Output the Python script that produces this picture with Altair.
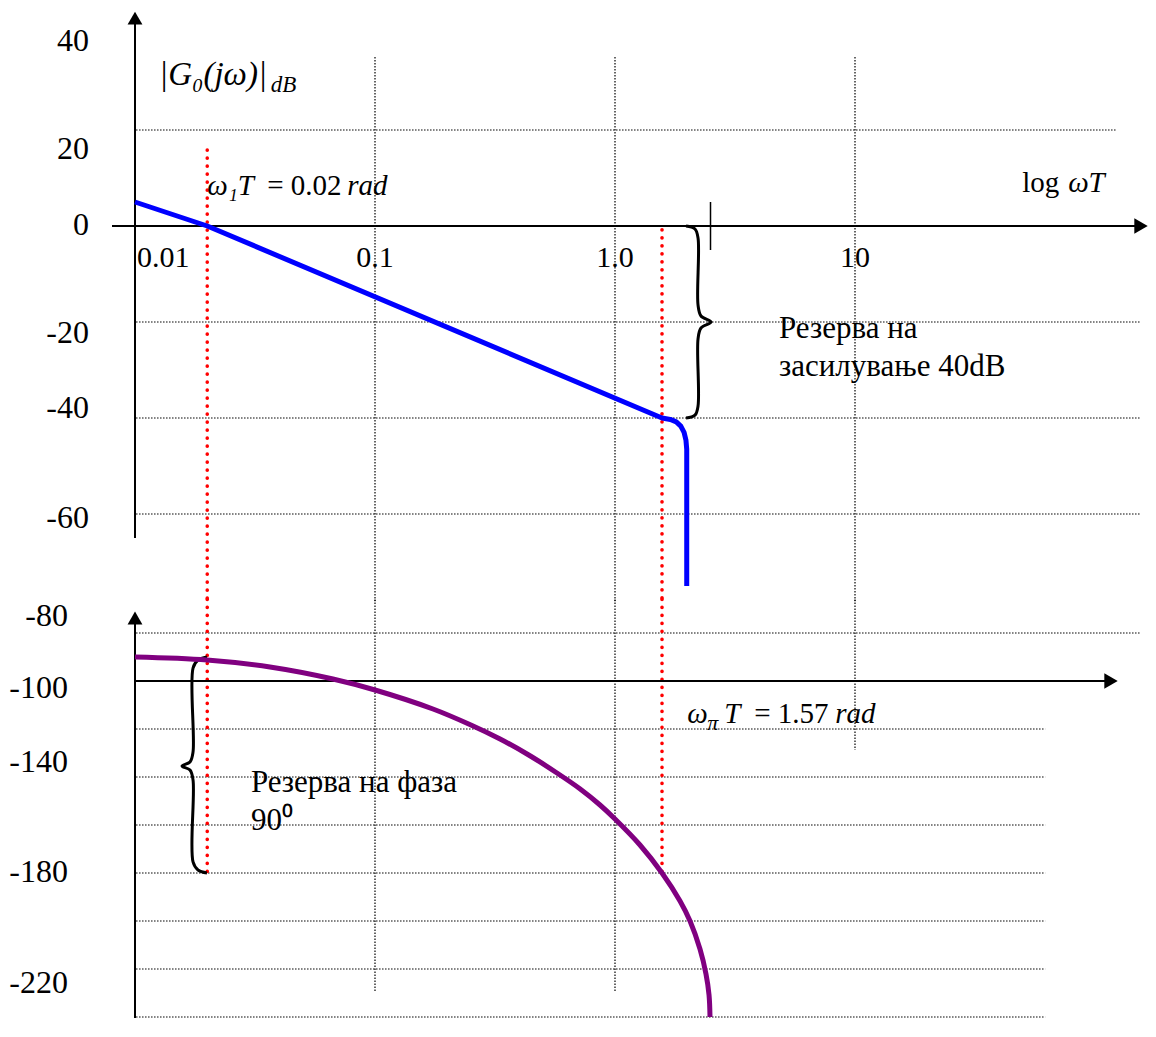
import altair as alt
import pandas as pd

FONT = "Liberation Serif"

# ---------------- values ----------------
# frequency axis (omega*T, logarithmic)
x_tick_values = [0.1, 1.0, 10.0]
x_tick_labels = ["0.1", "1.0", "10"]
x_first_tick = [0.01]
x_first_label = ["0.01"]
v_grid_values = [0.1, 1.0, 10.0]

# magnitude |G0(jw)| in dB
mag_wT = [0.01, 0.02, 1.57, 1.70, 1.80, 1.88, 1.94, 1.975, 1.99, 1.99]
mag_dB = [5.0, 0.0, -40.0, -40.3, -40.8, -41.7, -43.0, -44.6, -46.5, -75.0]
db_tick_values = [40, 20, 0, -20, -40, -60]
db_tick_labels = ["40", "20", "0", "-20", "-40", "-60"]
db_grid_values = [20, -20, -40, -60]
db_grid_end = [122.0, 154.0, 154.0, 154.0]

# phase in degrees
ph_wT = [0.01, 0.01995, 0.0365, 0.0668, 0.1, 0.1744, 0.251, 0.332, 0.437, 0.573, 0.716, 0.866, 1.0,
         1.271, 1.57, 1.866, 2.054, 2.26, 2.394, 2.465, 2.488]
ph_deg = [-90.0, -91.25, -94.17, -99.17, -103.75, -111.67, -118.33, -124.17, -130.83, -138.33, -145.0,
          -151.67, -157.5, -168.33, -180.0, -191.67, -200.0, -211.67, -222.08, -230.83, -240.0]
deg_tick_values = [-80, -100, -140, -180, -220]
deg_tick_labels = ["-80", "-100", "-140", "-180", "-220"]
deg_grid_values = [-80, -120, -140, -160, -180, -200, -220, -240]
deg_grid_end = [154.0, 62.0, 62.0, 62.0, 62.0, 62.0, 62.0, 62.0]

# characteristic points
w1T = 0.02          # gain crossover
wpiT = 1.57         # phase crossover
gain_margin_dB = [0, -40]
phase_margin_deg = [-90, -180]

# brace outlines (omega*T , value)
brace_top_wT = [1.977, 2.154, 2.218, 2.218, 2.282, 2.512, 2.282, 2.218, 2.218, 2.154, 1.977]
brace_top_dB = [0, -0.625, -2.5, -16.46, -18.75, -20, -21.25, -23.54, -37.5, -39.4, -40]
brace_bot_wT = [0.01995, 0.0183, 0.01745, 0.01745, 0.01695, 0.0157, 0.01695, 0.01745, 0.01745, 0.0183, 0.01995]
brace_bot_deg = [-90, -91.25, -94.6, -129.6, -133.75, -135.4, -137.1, -141.25, -175.4, -178.75, -180]

# ---------------- layout ----------------
PX_PER_DECADE = 240
PLOT_W = 1013
PLOT_H = 1010
PX_PER_DB = 4.8
PX_PER_DEG = 2.4
x_max = 10 ** (-2 + PLOT_W / PX_PER_DECADE)

x_scale = alt.Scale(type="log", domain=[0.01, x_max], nice=False)
db_top = 218 / PX_PER_DB
db_scale = alt.Scale(domain=[db_top - PLOT_H / PX_PER_DB, db_top], nice=False, zero=False)
deg_top = -100 + 673 / PX_PER_DEG
deg_scale = alt.Scale(domain=[deg_top - PLOT_H / PX_PER_DEG, deg_top], nice=False, zero=False)
DB_SEAM = -78.2     # bottom of magnitude drawing area
DEG_SEAM = -66.0    # top of phase drawing area

DOT = [1.5, 1.5]
RED_DOT = [0.1, 7.9]
TXT = 31            # annotation text size
YNUM = 32           # y tick label size
XNUM = 30           # x tick label size

# small pixel shifts of the y tick labels (downwards positive), as drawn in the reference
top_offsets = {40: 7, 20: 19, 0: -1, -20: 11, -40: -10, -60: 4}
bot_offsets = {-80: -17, -100: 7, -140: -15, -180: -1, -220: 14}


def offset_expr(d):
    e = "0"
    for k, v in d.items():
        e = f"(datum.v === {k} ? {v} : {e})"
    return e


def X(f="x"):
    return alt.X(f"{f}:Q", scale=x_scale, axis=None)


def Y(f, sc):
    return alt.Y(f"{f}:Q", scale=sc, axis=None)


def texts(df, sc, size=TXT, style="normal", align="left", dx=0, dy=0, baseline="alphabetic"):
    return alt.Chart(df).mark_text(
        font=FONT, fontSize=size, fontStyle=style, color="black",
        align=align, baseline=baseline, dx=dx, dy=dy,
    ).encode(x=X(), y=Y("y", sc), text="t:N")


def ylabels(vals, labels, offsets, px_per_unit, sc, pad):
    df = pd.DataFrame({"v": vals, "t": labels, "x": 0.01})
    return alt.Chart(df).transform_calculate(
        y=f"datum.v - {offset_expr(offsets)} / {px_per_unit}"
    ).mark_text(font=FONT, fontSize=YNUM, color="black", align="right", baseline="middle",
                dx=-pad).encode(x=X(), y=Y("y", sc), text="t:N")


def panel(sc, grid_vals, grid_end, vgrid_top, vgrid_bot, red_top, red_bot,
          yaxis_top, yaxis_bot, xaxis_y, xaxis_x0, xaxis_x1):
    hgrid = alt.Chart(pd.DataFrame({"y": grid_vals, "x": 0.0101, "x2": grid_end})).mark_rule(
        color="black", strokeWidth=1.2, strokeDash=DOT).encode(x=X(), x2="x2:Q", y=Y("y", sc))
    vgrid = alt.Chart(pd.DataFrame({"x": v_grid_values, "y": vgrid_top, "y2": vgrid_bot})).mark_rule(
        color="black", strokeWidth=1.2, strokeDash=DOT).encode(x=X(), y=Y("y", sc), y2="y2:Q")
    red = alt.Chart(pd.DataFrame({"x": [w1T, wpiT], "y": red_top, "y2": red_bot})).mark_rule(
        color="#ff0000", strokeWidth=3.6, strokeDash=RED_DOT, strokeCap="round").encode(
        x=X(), y=Y("y", sc), y2="y2:Q")
    yline = alt.Chart(pd.DataFrame({"x": [0.01], "y": [yaxis_top], "y2": [yaxis_bot]})).mark_rule(
        color="black", strokeWidth=2).encode(x=X(), y=Y("y", sc), y2="y2:Q")
    xline = alt.Chart(pd.DataFrame({"y": [xaxis_y], "x": [xaxis_x0], "x2": [xaxis_x1]})).mark_rule(
        color="black", strokeWidth=2.2).encode(x=X(), x2="x2:Q", y=Y("y", sc))
    up = alt.Chart(pd.DataFrame({"x": [0.01], "y": [yaxis_top]})).mark_point(
        shape="triangle-up", filled=True, size=220, color="black", opacity=1).encode(x=X(), y=Y("y", sc))
    right = alt.Chart(pd.DataFrame({"x": [xaxis_x1], "y": [xaxis_y]})).mark_point(
        shape="triangle-right", filled=True, size=240, color="black", opacity=1).encode(x=X(), y=Y("y", sc))
    return [hgrid, vgrid, red, yline, xline, up, right]


# ---------------- magnitude group ----------------
top_layers = panel(db_scale, db_grid_values, db_grid_end, 35.2, DB_SEAM, [15.8, -0.8], DB_SEAM,
                   43.3, -65.0, 0, 0.00802, 155.5)

tick = alt.Chart(pd.DataFrame({"x": [2.5], "y": [5.0], "y2": [-5.0]})).mark_rule(
    color="black", strokeWidth=1.5).encode(x=X(), y=Y("y", db_scale), y2="y2:Q")

mag = alt.Chart(pd.DataFrame({"x": mag_wT, "y": mag_dB, "i": range(len(mag_wT))})).mark_line(
    color="#0000ff", strokeWidth=5, strokeJoin="round").encode(x=X(), y=Y("y", db_scale), order="i:Q")

brace_top = alt.Chart(pd.DataFrame({"x": brace_top_wT, "y": brace_top_dB,
                                    "i": range(len(brace_top_wT))})).mark_line(
    color="black", strokeWidth=3, interpolate="catmull-rom").encode(x=X(), y=Y("y", db_scale), order="i:Q")

ylab_top = ylabels(db_tick_values, db_tick_labels, top_offsets, PX_PER_DB, db_scale, 46)

xlab = texts(pd.DataFrame({"x": x_tick_values, "y": 0, "t": x_tick_labels}), db_scale,
             size=XNUM, align="center", dy=41)
xlab0 = texts(pd.DataFrame({"x": x_first_tick, "y": 0, "t": x_first_label}), db_scale,
              size=XNUM, dx=2, dy=41)

g_main = texts(pd.DataFrame({"x": [0.0126], "y": [29.4], "t": ["|G\u2080(j\u03c9)|"]}), db_scale,
               size=33, style="italic")
g_sub = texts(pd.DataFrame({"x": [0.0368], "y": [27.9], "t": ["dB"]}), db_scale, size=23, style="italic")

w1_a = texts(pd.DataFrame({"x": [w1T], "y": [6.46], "t": ["\u03c9\u2081T"]}), db_scale, size=29, style="italic")
w1_b = texts(pd.DataFrame({"x": [w1T], "y": [6.46], "t": ["= 0.02"]}), db_scale, size=29, dx=60)
w1_c = texts(pd.DataFrame({"x": [w1T], "y": [6.46], "t": ["rad"]}), db_scale, size=29, style="italic", dx=140)

log_a = texts(pd.DataFrame({"x": [49.7], "y": [7.1], "t": ["log"]}), db_scale, size=29)
log_b = texts(pd.DataFrame({"x": [49.7], "y": [7.1], "t": ["\u03c9T"]}), db_scale, size=29,
              style="italic", dx=46)

gm_text = texts(pd.DataFrame({"x": [4.82, 4.82], "y": [-23.3, -31.25],
                              "t": ["Резерва на", "засилување 40dB"]}), db_scale)

top = alt.layer(*top_layers, tick, brace_top, mag, ylab_top, xlab, xlab0, g_main, g_sub,
                w1_a, w1_b, w1_c, log_a, log_b, gm_text)

# ---------------- phase group ----------------
bot_layers = panel(deg_scale, deg_grid_values, deg_grid_end, DEG_SEAM, [-229.6, -229.6, -128.75],
                   DEG_SEAM, -180.0, -73.75, -241.5, -100, 0.01, 116.6)

phase = alt.Chart(pd.DataFrame({"x": ph_wT, "y": ph_deg})).mark_line(
    color="#800080", strokeWidth=5, interpolate="catmull-rom").encode(x=X(), y=Y("y", deg_scale))

brace_bot = alt.Chart(pd.DataFrame({"x": brace_bot_wT, "y": brace_bot_deg,
                                    "i": range(len(brace_bot_wT))})).mark_line(
    color="black", strokeWidth=3, interpolate="catmull-rom").encode(x=X(), y=Y("y", deg_scale), order="i:Q")

ylab_bot = ylabels(deg_tick_values, deg_tick_labels, bot_offsets, PX_PER_DEG, deg_scale, 67)

wp_a = texts(pd.DataFrame({"x": [2.0], "y": [-117.5], "t": ["\u03c9"]}), deg_scale, size=29, style="italic")
wp_b = texts(pd.DataFrame({"x": [2.0], "y": [-117.5], "t": ["\u03c0"]}), deg_scale, size=22,
             style="italic", dx=20, dy=7)
wp_c = texts(pd.DataFrame({"x": [2.0], "y": [-117.5], "t": ["T"]}), deg_scale, size=29, style="italic", dx=37)
wp_d = texts(pd.DataFrame({"x": [2.0], "y": [-117.5], "t": ["= 1.57"]}), deg_scale, size=29, dx=67)
wp_e = texts(pd.DataFrame({"x": [2.0], "y": [-117.5], "t": ["rad"]}), deg_scale, size=29, style="italic", dx=148)

pm_text = texts(pd.DataFrame({"x": [0.0304, 0.0304], "y": [-146.25, -162.1],
                              "t": ["Резерва на фаза", "90\u2070"]}), deg_scale)

bottom = alt.layer(*bot_layers, brace_bot, phase, ylab_bot, wp_a, wp_b, wp_c, wp_d, wp_e, pm_text)

chart = alt.layer(top, bottom).resolve_scale(y="independent").properties(
    width=PLOT_W,
    height=PLOT_H,
    padding={"left": 127, "top": 0, "right": 0, "bottom": 0},
    autosize=alt.AutoSizeParams(type="none"),
    background="white",
).configure_view(stroke=None)

chart.save("out.html", embed_options={"renderer": "svg", "actions": False})
